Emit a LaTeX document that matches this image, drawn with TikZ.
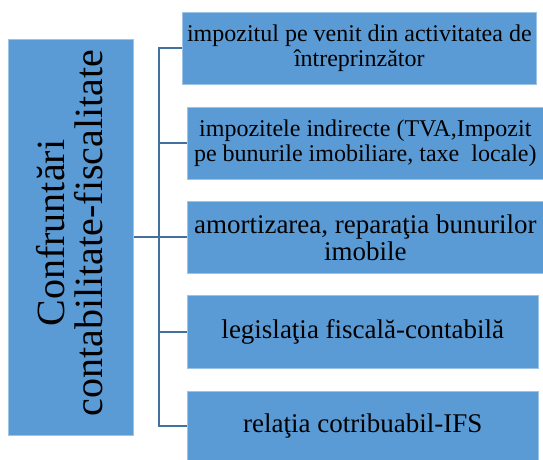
\documentclass[tikz,border=0pt]{standalone}
\usepackage{fontspec}
\setmainfont{Liberation Serif}
\definecolor{boxblue}{HTML}{5B9BD5}
\definecolor{boxedge}{HTML}{9DC3E6}
\definecolor{linkblue}{HTML}{41719C}
\begin{document}
\begin{tikzpicture}[x=1pt,y=-1pt,
  box/.style={draw=boxedge, line width=0.6pt, fill=boxblue, anchor=north west, inner sep=0pt, align=center, text=black},
  small/.style={font=\fontsize{24}{25}\selectfont},
  big/.style={font=\fontsize{27}{27}\selectfont},
  conn/.style={draw=linkblue, line width=2pt}]
\useasboundingbox (0,0) rectangle (543,459);
\node[box, minimum width=125pt, minimum height=396pt] (L) at (8,39) {};
\node[rotate=90, align=center, font=\fontsize{40}{38}\selectfont] (Lt) at (70,233) {Confruntări\\contabilitate-fiscalitate};
\node[box, small, minimum width=354pt, minimum height=72pt] (B1) at (182,12) {impozitul pe venit din activitatea de\\întreprinzător};
\node[box, small, minimum width=356pt, minimum height=72pt] (B2) at (187,107) {impozitele indirecte (TVA,Impozit\\pe bunurile imobiliare, taxe\ \ locale)};
\node[box, big, minimum width=356pt, minimum height=72pt] (B3) at (187,201) {amortizarea, reparaţia bunurilor\\imobile};
\node[box, big, minimum width=351pt, minimum height=73pt] (B4) at (187,295) {legislaţia fiscală-contabilă};
\node[box, big, minimum width=351pt, minimum height=70pt] (B5) at (187,391) {relaţia cotribuabil-IFS};
\coordinate (sp) at (159,0);
\draw[conn] (B1.west) -- (B1.west -| sp) -- (B5.west -| sp) -- (B5.west);
\draw[conn] (B2.west -| sp) -- (B2.west);
\draw[conn] (B4.west -| sp) -- (B4.west);
\draw[conn] (L.east) -- (B3.west);
\end{tikzpicture}
\end{document}
